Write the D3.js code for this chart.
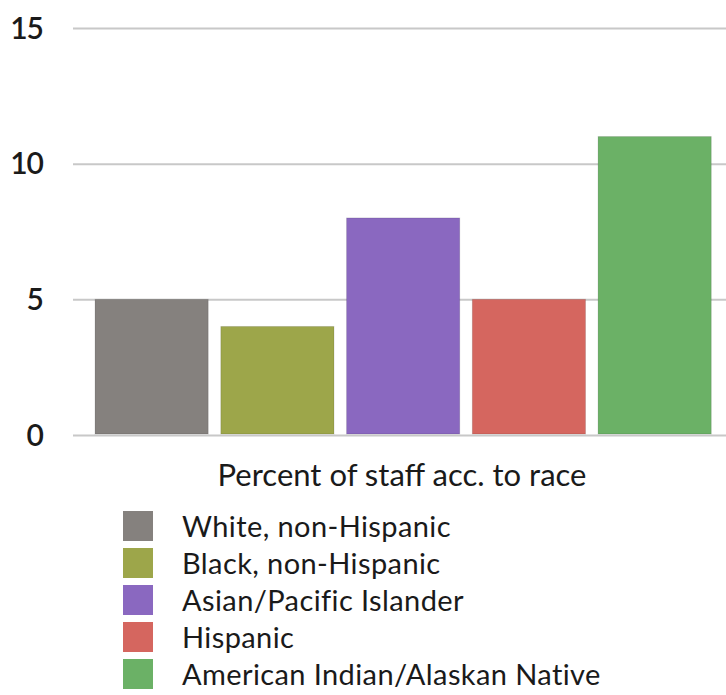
<!DOCTYPE html>
<html>
<head>
<meta charset="utf-8">
<script src="https://cdn.jsdelivr.net/npm/d3@7"></script>
<style>
  html, body { margin: 0; padding: 0; background: #fff; }
  svg { display: block; }
  text { font-family: Lato, "Open Sans", sans-serif; fill: #1a1a1a; }
</style>
</head>
<body>
<svg id="chart" width="726" height="695"></svg>
<script>
const categories = ["White, non-Hispanic", "Black, non-Hispanic", "Asian/Pacific Islander", "Hispanic", "American Indian/Alaskan Native"];
const values = [5, 4, 8, 5, 11];
const colors = ["#85817e", "#9da64a", "#8a68c0", "#d5665f", "#6bb166"];
const yTicks = [0, 5, 10, 15];
const axisTitle = "Percent of staff acc. to race";

const svg = d3.select("#chart");
const x = d3.scaleBand().domain(categories).range([89, 717.3]).paddingInner(0.1).paddingOuter(0.048);
const y = d3.scaleLinear().domain([0, 15]).range([435, 28]);

// gridlines
const grid = svg.append("g")
  .attr("transform", "translate(73,0)")
  .call(d3.axisLeft(y).tickValues(yTicks).tickSize(-(726 - 73)).tickFormat(""));
grid.select(".domain").remove();
grid.selectAll("line").attr("stroke", "#c8c8c8").attr("stroke-width", 2);

// tick labels
svg.append("g").selectAll("text").data(yTicks).join("text")
  .attr("x", 43).attr("y", d => y(d)).attr("dy", "0.36em")
  .attr("text-anchor", "end")
  .style("font-size", "30px").style("font-weight", "600").style("letter-spacing", "-1px")
  .text(d => d);

// bars
svg.append("g").selectAll("rect").data(values).join("rect")
  .attr("x", (d, i) => x(categories[i]))
  .attr("width", x.bandwidth())
  .attr("y", d => y(d))
  .attr("height", d => y(0) - 1 - y(d))
  .attr("fill", (d, i) => colors[i])
  .attr("stroke", "rgba(0,0,0,0.12)").attr("stroke-width", 1);

// axis title
svg.append("text").attr("x", 402).attr("y", 486).attr("text-anchor", "middle")
  .style("font-size", "31px").text(axisTitle);

// legend
const leg = svg.append("g").selectAll("g").data(categories).join("g")
  .attr("transform", (d, i) => `translate(123,${511 + i * 37})`);
leg.append("rect").attr("width", 30).attr("height", 30).attr("fill", (d, i) => colors[i]);
leg.append("text").attr("x", 59).attr("y", 26)
  .style("font-size", "29px").style("letter-spacing", "0.4px").text(d => d);
</script>
</body>
</html>
